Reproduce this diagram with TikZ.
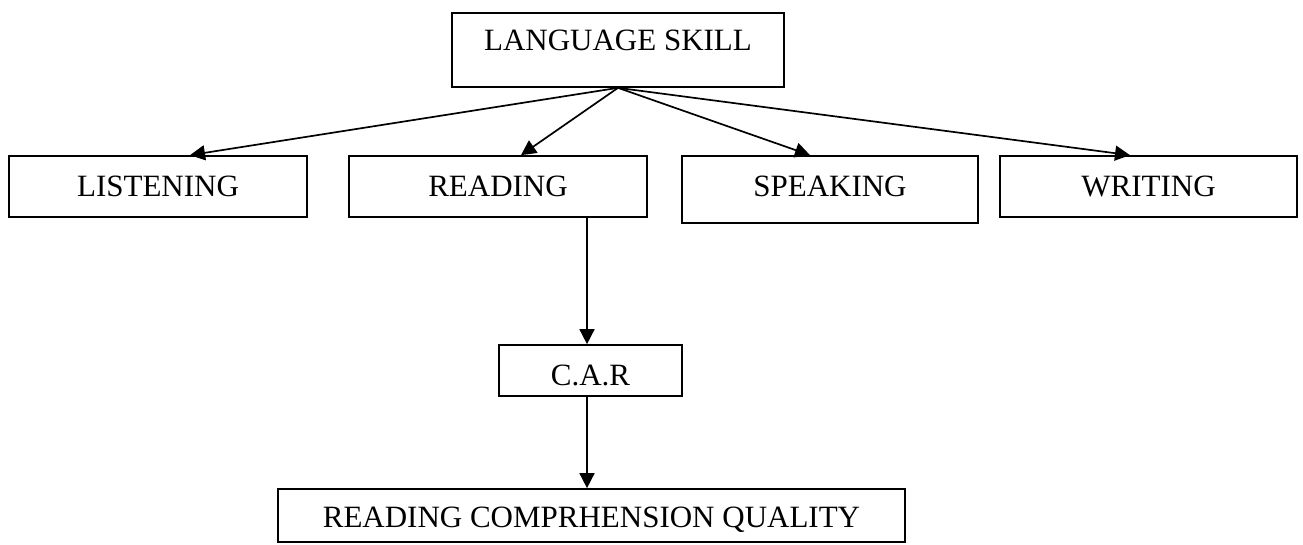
\documentclass[tikz,border=0pt]{standalone}
\usepackage{fontspec}
\setmainfont{Liberation Serif}
\usetikzlibrary{arrows.meta}
\begin{document}
\begin{tikzpicture}[x=1pt,y=1pt,
  box/.style={draw, line width=1.7pt, inner sep=0pt, text depth=0pt, text height=19pt,
    font=\fontsize{31pt}{36pt}\selectfont},
  arr/.style={line width=1.7pt, -{Triangle[length=15pt,width=15pt]}}]
\useasboundingbox (0,0) rectangle (1303,-544);
\node[box, minimum width=332pt, minimum height=74pt, text height=10pt, text depth=10pt] (ls) at (618,-50) {LANGUAGE SKILL};
\node[box, minimum width=298pt, minimum height=61pt] (lis) at (158,-186.5) {LISTENING};
\node[box, minimum width=298pt, minimum height=61pt] (read) at (498,-186.5) {READING};
\node[box, minimum width=296pt, minimum height=67pt, text height=13pt] (speak) at (830,-189.5) {SPEAKING};
\node[box, minimum width=297pt, minimum height=61pt] (write) at (1148.5,-186.5) {WRITING};
\node[box, minimum width=183pt, minimum height=51pt, text height=29pt] (car) at (590.5,-370.5) {C.A.R};
\node[box, minimum width=627pt, minimum height=53pt, text height=23pt] (rcq) at (591.5,-515.5) {READING COMPRHENSION QUALITY};
\draw[arr] (ls.south) -- ([xshift=32pt]lis.north);
\draw[arr] (ls.south) -- ([xshift=23pt]read.north);
\draw[arr] (ls.south) -- ([xshift=-20pt]speak.north);
\draw[arr] (ls.south) -- ([xshift=-18.5pt]write.north);
\draw[arr] ([xshift=89pt]read.south) -- ([xshift=89pt]read.south |- car.north);
\draw[arr] ([xshift=-3.5pt]car.south) -- ([xshift=-3.5pt]car.south |- rcq.north);
\end{tikzpicture}
\end{document}
